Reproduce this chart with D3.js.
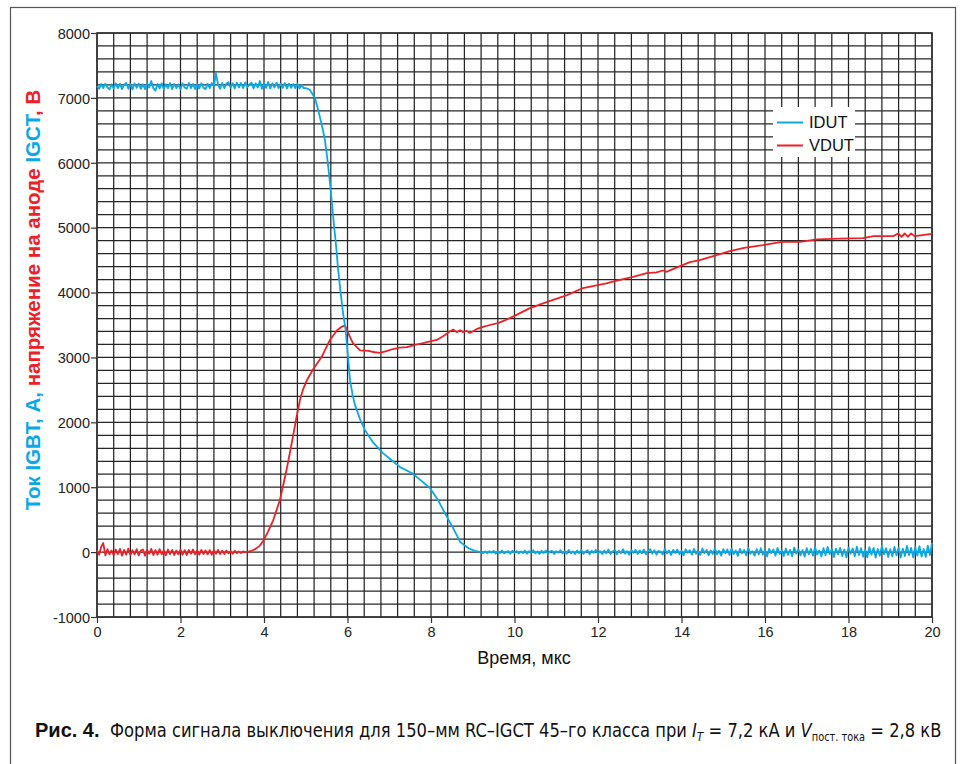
<!DOCTYPE html>
<html>
<head>
<meta charset="utf-8">
<script src="https://cdn.jsdelivr.net/npm/d3@7"></script>
<style>
  body { margin: 0; background: #fff; }
  svg { display: block; }
</style>
</head>
<body>
<div class="container"></div>
<script>
const width = 962;
const height = 764;

// axes
const xDomain = [0, 20];
const yDomain = [-1000, 8000];
const xTicks = [0, 2, 4, 6, 8, 10, 12, 14, 16, 18, 20];
const yTicks = [-1000, 0, 1000, 2000, 3000, 4000, 5000, 6000, 7000, 8000];
const xGridStep = 0.4;
const yGridStep = 200;

// sampled traces: noisy flat parts are stored as values taken every sampleStep us
const sampleStep = 0.05;

// IDUT, flat part from 0 us
const idutHead = [
    7185, 7140, 7215, 7150, 7220, 7160, 7130, 7210, 7145, 7225,
    7150, 7220, 7135, 7200, 7230, 7140, 7215, 7130, 7225, 7155,
    7220, 7140, 7210, 7135, 7225, 7160, 7260, 7150, 7110, 7215,
    7145, 7225, 7130, 7210, 7150, 7230, 7135, 7215, 7150, 7210,
    7130, 7225, 7160, 7140, 7230, 7150, 7215, 7135, 7210, 7145,
    7225, 7155, 7135, 7220, 7150, 7230, 7180, 7380, 7200, 7140,
    7230, 7150, 7220, 7240, 7155, 7225, 7145, 7235, 7160, 7230,
    7150, 7240, 7165, 7205, 7235, 7145, 7225, 7160, 7260, 7140,
    7230, 7155, 7245, 7145, 7225, 7160, 7235, 7150, 7220, 7155,
    7230, 7145, 7220, 7155, 7215, 7150, 7220, 7145, 7200, 7150,
    7150, 7140
];
// IDUT, turn-off edge [us, A]
const idutFall = [
    [5.1, 7120], [5.16, 7060], [5.22, 7000], [5.28, 6860], [5.34, 6700],
    [5.4, 6540], [5.46, 6350], [5.52, 6050], [5.58, 5690], [5.63, 5350],
    [5.68, 5010], [5.73, 4700], [5.77, 4390], [5.83, 4030], [5.89, 3700],
    [5.95, 3450], [6.0, 3100], [6.06, 2650], [6.12, 2430], [6.18, 2265],
    [6.3, 2050], [6.42, 1880], [6.6, 1700], [6.85, 1525], [7.05, 1420],
    [7.26, 1310], [7.55, 1215], [7.75, 1110], [7.98, 985], [8.17, 800],
    [8.35, 580], [8.53, 370], [8.7, 155], [8.9, 60], [9.05, 20]
];
// IDUT, tail from 9.2 us
const idutTailStart = 9.2;
const idutTail = [
    0, -15, 10, -20, 15, -10, 20, -25, 10, -15, 25, -20, 0, 15, -25, 20, -10, 15, -20, 10,
    -15, 25, -25, 15, -10, 30, -20, 10, -30, 20, -15, 25, -25, 10, 20, -30, 15, -10, 30, -20,
    15, -25, 35, -20, 10, -30, 25, -15, 35, -25, 5, 30, -35, 20, -10, 35, -25, 15, -30, 25,
    -20, 40, -30, 10, 35, -35, 20, -15, 45, -25, 15, -40, 30, -10, 35, -30, 25, -20, 40, -35,
    15, 45, -25, 30, -40, 20, 5, -35, 50, -20, 25, -45, 35, -15, 40, -30, 20, -50, 45, -10,
    30, -40, 50, -25, 15, -45, 55, -20, 35, -50, 25, -30, 60, -35, 20, -55, 45, -15, 40, -45,
    55, -30, 25, -60, 50, -20, 35, -50, 65, -25, 15, -55, 45, -35, 60, -40, 25, -65, 50, -15,
    40, -55, 65, -30, 20, -60, 55, -45, 35, -65, 70, -25, 45, -50, 30, -70, 60, -35, 50, -55,
    75, -40, 25, -65, 60, -50, 80, -30, 45, -75, 55, -35, 65, -60, 40, -80, 70, -25, 55, -65,
    85, -45, 60, -70, 35, -80, 75, -40, 65, -85, 50, -55, 90, -35, 60, -75, 45, -65, 80, -50,
    70, -85, 55, -60, 95, -45, 65, -80, 75, -55, 90, -70, 50, -75, 100, -45, 140
];

// VDUT, flat part from 0 us
const vdutHead = [
    30, -40, 80, 140, -50, 45, -35, 25, -50, 40,
    -30, 50, -55, 35, -40, 55, -45, 30, -35, 45,
    -50, 25, 40, -55, 35, -25, 50, -45, 30, -40,
    45, -35, 25, -50, 40, -30, 35, -45, 25, -35,
    40, -40, 30, -45, 35, -25, 40, -35, 25, -40,
    35, -30, 25, -35, 30, -40, 25, -25, 35, -30,
    20, -30, 25, -20, 15, -25, 20, -15, 10, -15,
    10, 0, 5
];
// VDUT, rise [us, V]
const vdutRise = [
    [3.65, 10], [3.72, 25], [3.8, 50], [3.9, 100], [3.98, 170], [4.1, 320],
    [4.22, 490], [4.38, 800], [4.45, 1000], [4.55, 1300], [4.67, 1700],
    [4.77, 2050], [4.86, 2340], [4.93, 2500], [5.02, 2640], [5.17, 2810], [5.39, 3020],
    [5.58, 3270], [5.75, 3420], [5.88, 3480], [5.94, 3490], [6.01, 3390],
    [6.07, 3300], [6.13, 3220], [6.3, 3110], [6.5, 3100], [6.65, 3080],
    [6.78, 3070], [6.95, 3100], [7.09, 3130], [7.25, 3150], [7.42, 3160],
    [7.6, 3190], [7.81, 3220], [8.0, 3250], [8.14, 3270], [8.3, 3330],
    [8.45, 3400], [8.53, 3430], [8.62, 3390], [8.7, 3420], [8.77, 3390],
    [8.85, 3410], [8.92, 3380], [9.0, 3400], [9.1, 3440], [9.25, 3470],
    [9.41, 3500], [9.6, 3530], [9.8, 3580], [10.0, 3640], [10.37, 3760],
    [10.8, 3860], [11.26, 3960], [11.64, 4070], [12.2, 4140], [12.5, 4190],
    [12.84, 4240], [13.17, 4300], [13.4, 4310], [13.56, 4340], [13.65, 4320],
    [13.75, 4350], [14.2, 4470], [14.44, 4500], [14.6, 4530], [15.16, 4640],
    [15.5, 4690], [15.95, 4730], [16.4, 4780], [16.84, 4780], [17.25, 4820],
    [17.8, 4830], [18.35, 4840], [18.6, 4870], [19.07, 4870], [19.19, 4910],
    [19.27, 4860], [19.35, 4910], [19.42, 4860], [19.5, 4910], [19.58, 4870],
    [19.95, 4900], [20, 4900]
];

const blue = '#0aa8e6';
const red = '#ec2027';
const gridColor = '#262626';

function sampled(values, start) {
    return values.map((v, i) => [start + i * sampleStep, v]);
}

const idut = sampled(idutHead, 0).concat(idutFall, sampled(idutTail, idutTailStart));
const vdut = sampled(vdutHead, 0).concat(vdutRise);

const svg = d3.select('.container')
    .append('svg')
    .attr('width', width)
    .attr('height', height)
    .style('font-family', '"Liberation Sans", Arial, sans-serif');

// outer frame (bottom edge is below the picture)
svg.append('rect')
    .attr('x', 10.5).attr('y', 7.5)
    .attr('width', 945).attr('height', 770)
    .attr('fill', 'none')
    .attr('stroke', '#555')
    .attr('stroke-width', 1.2);

const x = d3.scaleLinear().domain(xDomain).range([97, 932]);
const y = d3.scaleLinear().domain(yDomain).range([617, 33]);

// grid
const grid = svg.append('g').attr('stroke', gridColor).attr('stroke-width', 1.25);
grid.selectAll('.vgrid')
    .data(d3.range(xDomain[0], xDomain[1] + 1e-9, xGridStep))
    .enter().append('line')
    .attr('x1', d => x(d)).attr('x2', d => x(d))
    .attr('y1', y(yDomain[1])).attr('y2', y(yDomain[0]));
grid.selectAll('.hgrid')
    .data(d3.range(yDomain[0], yDomain[1] + 1e-9, yGridStep))
    .enter().append('line')
    .attr('y1', d => y(d)).attr('y2', d => y(d))
    .attr('x1', x(xDomain[0])).attr('x2', x(xDomain[1]));

svg.append('rect')
    .attr('x', x(0)).attr('y', y(8000))
    .attr('width', x(20) - x(0)).attr('height', y(-1000) - y(8000))
    .attr('fill', 'none')
    .attr('stroke', '#333')
    .attr('stroke-width', 1.6);

// axes (plain hyphen for negatives, as in the original)
const xAxis = svg.append('g')
    .attr('transform', `translate(0,${y(yDomain[0])})`)
    .call(d3.axisBottom(x).tickValues(xTicks).tickSize(6).tickPadding(4).tickFormat(d => String(d)));
const yAxis = svg.append('g')
    .attr('transform', `translate(${x(xDomain[0])},0)`)
    .call(d3.axisLeft(y).tickValues(yTicks).tickSize(6).tickPadding(1).tickFormat(d => String(d)));
[xAxis, yAxis].forEach(a => {
    a.select('.domain').remove();
    a.selectAll('.tick line').attr('stroke', '#333').attr('stroke-width', 1.2);
    a.selectAll('.tick text')
        .attr('fill', '#222')
        .style('font-family', '"Liberation Sans", Arial, sans-serif')
        .style('font-size', '14.5px');
});
yAxis.selectAll('.tick text').attr('dy', '0.36em');

// traces
const line = d3.line().x(d => x(d[0])).y(d => y(d[1]));
svg.append('path')
    .datum(vdut)
    .attr('d', line)
    .attr('fill', 'none')
    .attr('stroke', red)
    .attr('stroke-width', 1.8)
    .attr('stroke-linejoin', 'round');
svg.append('path')
    .datum(idut)
    .attr('d', line)
    .attr('fill', 'none')
    .attr('stroke', blue)
    .attr('stroke-width', 1.8)
    .attr('stroke-linejoin', 'round');

// legend
const legend = svg.append('g');
legend.append('rect')
    .attr('x', 773).attr('y', 107)
    .attr('width', 82).attr('height', 50)
    .attr('fill', '#fff');
const legendItems = [
    { name: 'IDUT', color: blue, cy: 122.5 },
    { name: 'VDUT', color: red, cy: 145.5 },
];
legendItems.forEach(d => {
    legend.append('line')
        .attr('x1', 777).attr('x2', 803)
        .attr('y1', d.cy).attr('y2', d.cy)
        .attr('stroke', d.color).attr('stroke-width', 2);
    legend.append('text')
        .attr('x', 809).attr('y', d.cy)
        .attr('dy', '0.36em')
        .attr('fill', '#111')
        .style('font-size', '16.5px')
        .text(d.name);
});

// axis titles
svg.append('text')
    .attr('x', 524).attr('y', 664)
    .attr('text-anchor', 'middle')
    .attr('fill', '#111')
    .style('font-size', '18px')
    .text('Время, мкс');

const yTitle = svg.append('text')
    .attr('transform', 'translate(40,300) rotate(-90)')
    .attr('text-anchor', 'middle')
    .style('font-size', '20.5px')
    .style('font-weight', 'bold');
[
    ['Ток IGBT, А, ', blue],
    ['напряжение на аноде ', red],
    ['IGCT', blue],
    [', В', red],
].forEach(([t, c]) => yTitle.append('tspan').attr('fill', c).text(t));

// caption
svg.append('text')
    .attr('x', 35).attr('y', 737)
    .attr('fill', '#111')
    .style('font-size', '20px')
    .style('font-weight', 'bold')
    .text('Рис. 4.');

const caption = svg.append('text')
    .attr('x', 0).attr('y', 0)
    .attr('fill', '#111')
    .style('font-family', '"Liberation Sans Narrow", "DejaVu Sans Condensed", "Liberation Sans", sans-serif')
    .style('font-size', '20px');
caption.append('tspan').text('Форма сигнала выключения для 150–мм RC–IGCT 45–го класса при ');
caption.append('tspan').style('font-style', 'italic').text('I');
caption.append('tspan').style('font-style', 'italic').style('font-size', '13px').attr('dy', 4).text('T');
caption.append('tspan').attr('dy', -4).text(' = 7,2 кА и ');
caption.append('tspan').style('font-style', 'italic').text('V');
caption.append('tspan').style('font-size', '12px').attr('dy', 4).text('пост. тока');
caption.append('tspan').attr('dy', -4).text(' = 2,8 кВ');

const capWidth = caption.node().getBBox().width;
const capTarget = 942 - 110;
caption.attr('transform', `translate(110,737) scale(${capTarget / capWidth},1)`);
</script>
</body>
</html>
